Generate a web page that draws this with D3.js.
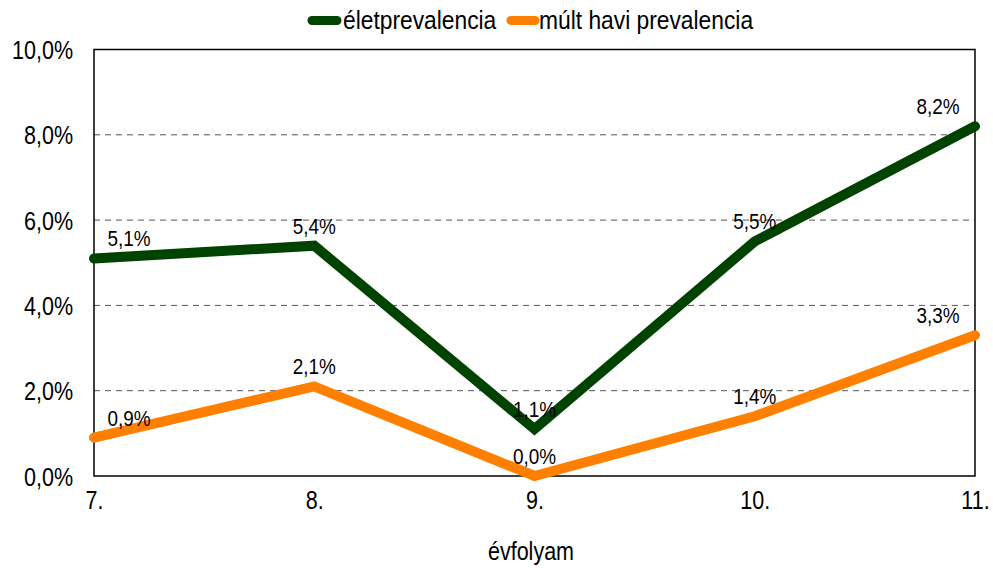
<!DOCTYPE html>
<html>
<head>
<meta charset="utf-8">
<script src="https://cdn.jsdelivr.net/npm/d3@7/dist/d3.min.js"></script>
<style>
  html, body { margin: 0; padding: 0; background: #fff; }
  svg { display: block; }
  text { font-family: "Liberation Sans", Arial, sans-serif; fill: #000; }
</style>
</head>
<body>
<svg id="chart" width="993" height="568"></svg>
<script>
// Grades (évfolyam) along the x axis
const grades = ["7.", "8.", "9.", "10.", "11."];
// Lifetime prevalence, %
const lifetime = [5.1, 5.4, 1.1, 5.5, 8.2];
// Past-month prevalence, %
const pastMonth = [0.9, 2.1, 0.0, 1.4, 3.3];
// Y axis ticks, %
const yTicks = [0, 2, 4, 6, 8, 10];
const seriesNames = ["életprevalencia", "múlt havi prevalencia"];
const seriesColors = ["#004200", "#ff8000"];

const fmt = v => v.toFixed(1).replace(".", ",") + "%";

const svg = d3.select("#chart");
const plotL = 94, plotR = 975, plotT = 49.5, plotB = 476;
const NARROW = 0.86; // condensed look for all labels

// Squeeze text horizontally to imitate a narrow typeface
function condense(sel) {
  sel.each(function () {
    const w = this.getComputedTextLength();
    d3.select(this)
      .attr("textLength", w * NARROW)
      .attr("lengthAdjust", "spacingAndGlyphs");
  });
}

const x = d3.scalePoint().domain(grades).range([plotL, plotR]);
const y = d3.scaleLinear().domain([0, 10]).range([plotB, plotT]);

// Dashed gridlines
svg.append("g")
  .selectAll("line")
  .data(yTicks.filter(t => t > 0 && t < 10))
  .join("line")
  .attr("x1", plotL).attr("x2", plotR)
  .attr("y1", d => y(d)).attr("y2", d => y(d))
  .attr("stroke", "#555")
  .attr("stroke-width", 1)
  .attr("stroke-dasharray", "6,5");

// Plot frame
svg.append("rect")
  .attr("x", plotL).attr("y", plotT)
  .attr("width", plotR - plotL).attr("height", plotB - plotT)
  .attr("fill", "none").attr("stroke", "#000").attr("stroke-width", 1.5);

// Y axis
const yAxis = svg.append("g")
  .attr("transform", `translate(${plotL},0)`)
  .call(d3.axisLeft(y).tickValues(yTicks).tickFormat(fmt).tickSize(0).tickPadding(21));
yAxis.select(".domain").remove();
yAxis.selectAll("text")
  .style("font-size", "25px").attr("dy", "0.36em")
  .call(condense);

// X axis
const xAxis = svg.append("g")
  .attr("transform", `translate(0,${plotB})`)
  .call(d3.axisBottom(x).tickSize(0).tickPadding(24));
xAxis.select(".domain").remove();
xAxis.selectAll("text")
  .style("font-size", "25px").attr("dy", "0.36em")
  .call(condense);
svg.selectAll(".tick text").attr("fill", "#000");
svg.selectAll("g").attr("font-family", null).attr("font-size", null);

// Axis title
svg.append("text")
  .attr("x", 531).attr("y", 560)
  .attr("text-anchor", "middle")
  .style("font-size", "25px")
  .text("évfolyam")
  .call(condense);

// Series lines
const line = d3.line().x((d, i) => x(grades[i])).y(d => y(d));
[lifetime, pastMonth].forEach((vals, s) => {
  svg.append("path")
    .datum(vals)
    .attr("d", line)
    .attr("fill", "none")
    .attr("stroke", seriesColors[s])
    .attr("stroke-width", 10)
    .attr("stroke-linecap", "round")
    .attr("stroke-linejoin", "miter");
});

// Value labels, kept inside the plot area
[lifetime, pastMonth].forEach(vals => {
  svg.append("g")
    .selectAll("text")
    .data(vals)
    .join("text")
    .attr("x", (d, i) => {
      const cx = x(grades[i]);
      return Math.min(Math.max(cx, plotL + 35), plotR - 37);
    })
    .attr("y", d => y(d) - 12)
    .attr("text-anchor", "middle")
    .style("font-size", "22px")
    .text(fmt)
    .call(condense);
});

// Legend
const legend = svg.append("g");
const legendItems = [
  { x1: 312, x2: 337, tx: 343 },
  { x1: 511, x2: 535, tx: 539 }
];
legendItems.forEach((it, s) => {
  legend.append("line")
    .attr("x1", it.x1).attr("x2", it.x2)
    .attr("y1", 20.5).attr("y2", 20.5)
    .attr("stroke", seriesColors[s])
    .attr("stroke-width", 9)
    .attr("stroke-linecap", "round");
  legend.append("text")
    .attr("x", it.tx).attr("y", 29)
    .style("font-size", "26.5px")
    .text(seriesNames[s])
    .call(condense);
});
</script>
</body>
</html>
